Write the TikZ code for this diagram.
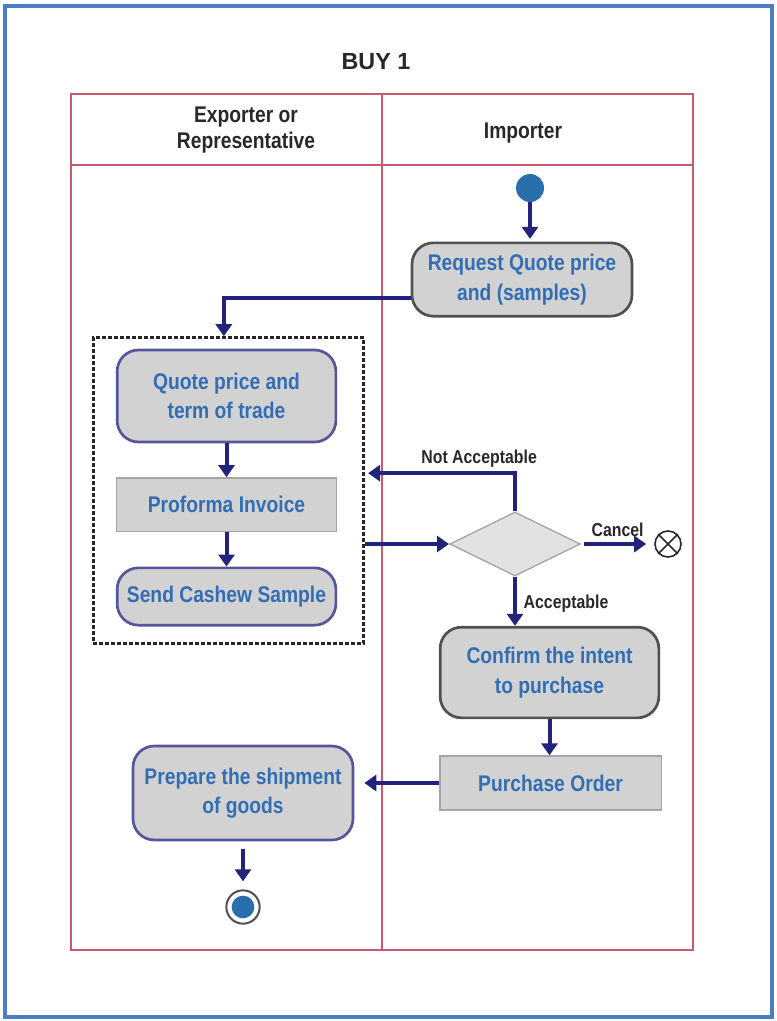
\documentclass[tikz,border=0pt]{standalone}
\usepackage{fontspec}
\setmainfont{Liberation Sans}
\newfontfamily\narrowsans[FakeStretch=0.85]{Liberation Sans}
\usetikzlibrary{arrows.meta,shapes.geometric}

\definecolor{framblue}{RGB}{75,125,195}
\definecolor{lanered}{RGB}{200,90,110}
\definecolor{textblue}{RGB}{50,110,180}
\definecolor{boxgray}{RGB}{210,210,210}
\definecolor{diagray}{RGB}{226,226,226}
\definecolor{darkedge}{RGB}{80,80,80}
\definecolor{blueedge}{RGB}{85,85,155}
\definecolor{lightedge}{RGB}{165,165,165}
\definecolor{flownavy}{RGB}{35,35,125}
\definecolor{dotblue}{RGB}{40,110,170}
\definecolor{inkgray}{RGB}{40,40,40}

\newcommand\actfont{\narrowsans\bfseries\fontsize{17}{22}\selectfont}
\newcommand\headfont{\narrowsans\bfseries\fontsize{17}{20}\selectfont}
\newcommand\guardfont{\narrowsans\bfseries\fontsize{14}{16}\selectfont}

\tikzset{
  lane/.style={draw=lanered, line width=1.6pt},
  act/.style={rectangle, rounded corners=16pt, fill=boxgray, line width=2pt,
    text=textblue, font=\actfont, align=center, inner sep=0pt},
  actdark/.style={act, draw=darkedge},
  actblue/.style={act, draw=blueedge},
  docbox/.style={rectangle, draw=lightedge, fill=boxgray, line width=1pt,
    text=textblue, font=\actfont, align=center, inner sep=0pt},
  flow/.style={draw=flownavy, line width=3pt, -{Triangle[length=9pt,width=12pt]}},
  guard/.style={font=\guardfont, text=inkgray, inner sep=1pt},
  header/.style={font=\headfont, text=inkgray, align=center},
  group/.style={rectangle, draw=black!85, line width=2.4pt,
    dash pattern=on 3pt off 1.5pt, minimum width=203pt, minimum height=229pt},
  startstate/.style={circle, fill=dotblue, minimum size=21pt, inner sep=0pt},
  endstate/.style={circle, draw=darkedge, line width=1.5pt, fill=white,
    minimum size=25pt, inner sep=0pt,
    path picture={\fill[dotblue] (path picture bounding box.center) circle (8.5pt);}},
  cancelstate/.style={circle, draw=inkgray, line width=1.2pt, fill=white,
    minimum size=19.5pt, inner sep=0pt},
  decision/.style={diamond, draw=lightedge, fill=diagray, line width=1pt,
    minimum width=98pt, minimum height=48pt, inner sep=0pt},
}

\begin{document}
\begin{tikzpicture}[x=0.75pt, y=-0.75pt]
  \useasboundingbox (0,0) rectangle (777,1021);

  % outer frame
  \draw[draw=framblue, line width=2.8pt] (5,6) rectangle (772,1017);

  % title and swimlanes
  \node[font=\bfseries\fontsize{17.5}{20}\selectfont, text=inkgray] (title) at (376,62) {BUY 1};
  \draw[lane] (71,94) rectangle (693,950);
  \draw[lane] (382,94) -- (382,950);
  \draw[lane] (71,165) -- (693,165);
  \node[header] (exph) at (246,130) {Exporter or\\Representative};
  \node[header] (imph) at (523,133) {Importer};

  % grouped exporter activities
  \node[group] (grp) at (228.5,490.5) {};

  % activities
  \node[startstate] (start) at (530,188) {};
  \node[actdark, minimum width=165pt, minimum height=55pt] (req) at (522,279.5)
    {Request Quote price\\and (samples)};
  \node[actblue, minimum width=164pt, minimum height=69pt] (quote) at (226.5,396)
    {Quote price and\\term of trade};
  \node[docbox, minimum width=165pt, minimum height=40pt] (proforma) at (226.5,504.5)
    {Proforma Invoice};
  \node[actblue, minimum width=164pt, minimum height=43pt] (send) at (226.5,596.5)
    {Send Cashew Sample};
  \node[decision] (dia) at (515,544) {};
  \node[cancelstate] (cancel) at (668,544) {};
  \draw[inkgray, line width=1.2pt] (cancel.45) -- (cancel.225) (cancel.135) -- (cancel.315);
  \node[actdark, minimum width=164pt, minimum height=68pt] (conf) at (549.5,672.5)
    {Confirm the intent\\to purchase};
  \node[docbox, minimum width=166pt, minimum height=40.5pt] (po) at (550.5,783)
    {Purchase Order};
  \node[actblue, minimum width=165pt, minimum height=70.5pt] (prep) at (243,793)
    {Prepare the shipment\\of goods};
  \node[endstate] (endnode) at (243,907) {};

  % control flow
  \draw[flow, shorten >=2pt] (start) -- (start |- req.north);
  \draw[flow] ([yshift=-14pt]req.west) -| ([xshift=-3.5pt]grp.north);
  \draw[flow] (quote) -- (proforma);
  \draw[flow] (proforma) -- (send);
  \draw[flow, shorten >=2pt] (dia.north) |- ([yshift=13pt]grp.east)
    node[guard, pos=0.62, above=2pt] {Not Acceptable};
  \draw[flow] (grp.east |- dia) -- (dia.west);
  \draw[flow, shorten <=2pt, shorten >=6pt] (dia.east) -- (cancel.west)
    node[guard, midway, above=3pt] {Cancel};
  \draw[flow] (dia.south) -- (dia.south |- conf.north)
    node[guard, midway, right=4pt, yshift=-2pt] {Acceptable};
  \draw[flow] (conf.south) -- (conf.south |- po.north);
  \draw[flow] (po.west) -- ([xshift=7.5pt]prep.east |- po.west);
  \draw[flow, shorten <=6pt, shorten >=6pt] (prep.south) -- (endnode.north);
\end{tikzpicture}
\end{document}
